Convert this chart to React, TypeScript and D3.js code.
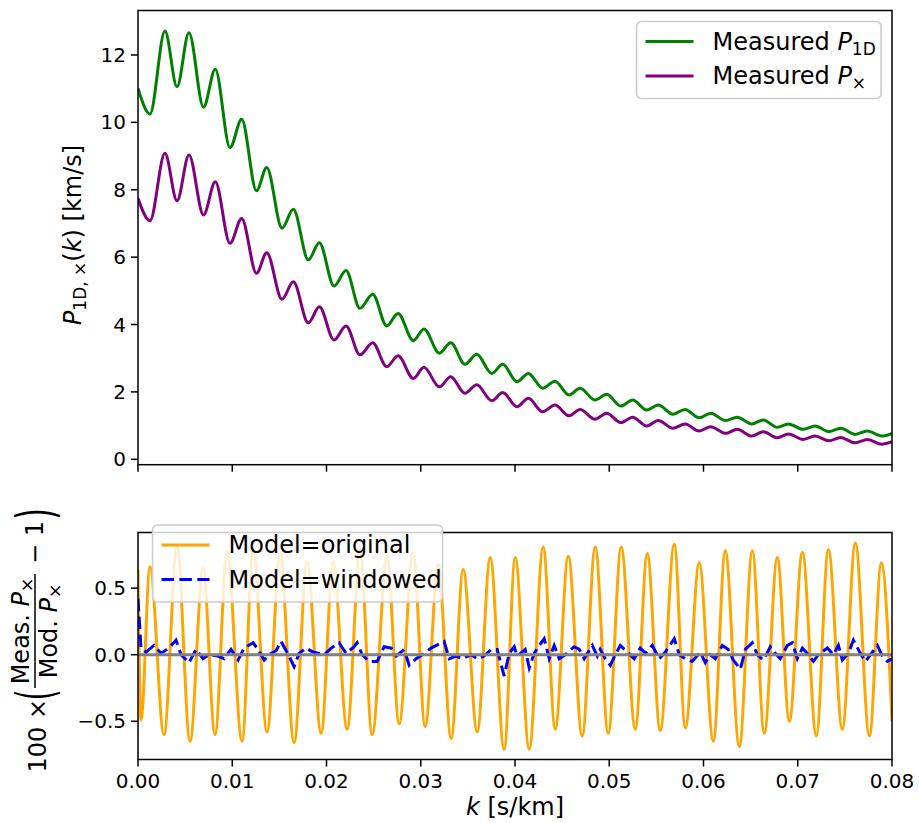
import React from 'react'
import * as d3 from 'd3'

// measured spectra, read at the extrema of the wiggles (k in s/km)
const kMeasured = [0, 0.00127, 0.00286, 0.00414, 0.00541, 0.00695, 0.0082, 0.00976, 0.011, 0.01257,
  0.01366, 0.01528, 0.01648, 0.01807, 0.01924, 0.0208, 0.02207, 0.02355, 0.0249, 0.02639,
  0.02759, 0.02921, 0.03034, 0.03197, 0.03318, 0.03469, 0.03594, 0.03753, 0.0387, 0.04021,
  0.04141, 0.04294, 0.04424, 0.04573, 0.0469, 0.04849, 0.04973, 0.05122, 0.05249, 0.05398,
  0.0552, 0.05676, 0.05804, 0.05955, 0.06077, 0.06233, 0.06358, 0.06511, 0.06634, 0.06783,
  0.069, 0.07059, 0.07183, 0.07331, 0.07456, 0.07607, 0.0774, 0.07891, 0.08]
const p1dMeasured = [11.01, 10.25, 12.71, 11.06, 12.66, 10.45, 11.58, 9.25, 10.09, 7.97,
  8.66, 6.86, 7.42, 5.92, 6.43, 5.14, 5.6, 4.48, 4.9, 3.96,
  4.33, 3.52, 3.87, 3.15, 3.46, 2.82, 3.12, 2.55, 2.82, 2.3,
  2.55, 2.11, 2.32, 1.91, 2.11, 1.76, 1.93, 1.58, 1.76, 1.46,
  1.61, 1.34, 1.48, 1.23, 1.37, 1.15, 1.25, 1.05, 1.17, 0.95,
  1.05, 0.89, 0.99, 0.82, 0.92, 0.74, 0.84, 0.69, 0.77]
const pxMeasured = [7.75, 7.08, 9.08, 7.67, 9.03, 7.25, 8.24, 6.41, 7.15, 5.52,
  6.13, 4.75, 5.27, 4.05, 4.53, 3.54, 3.96, 3.1, 3.46, 2.75,
  3.07, 2.4, 2.73, 2.15, 2.45, 1.96, 2.21, 1.74, 1.98, 1.56,
  1.81, 1.41, 1.61, 1.29, 1.48, 1.19, 1.37, 1.09, 1.25, 0.99,
  1.15, 0.92, 1.05, 0.84, 0.97, 0.77, 0.89, 0.69, 0.82, 0.64,
  0.75, 0.59, 0.69, 0.55, 0.65, 0.49, 0.59, 0.45, 0.52]

// residuals, model = original (extrema)
const kOriginal = [0, 0.00032, 0.00127, 0.00276, 0.00414, 0.00552, 0.0069, 0.00817, 0.00945, 0.01104,
  0.01221, 0.01369, 0.01507, 0.01656, 0.01794, 0.01943, 0.0207, 0.02219, 0.02357, 0.02484,
  0.02643, 0.02771, 0.02919, 0.03047, 0.03185, 0.03323, 0.0345, 0.03599, 0.03737, 0.03885,
  0.04002, 0.04151, 0.04299, 0.04427, 0.04565, 0.04713, 0.04851, 0.04989, 0.05127, 0.05276,
  0.05403, 0.05541, 0.0569, 0.05807, 0.05955, 0.06104, 0.06231, 0.0638, 0.06518, 0.06645,
  0.06783, 0.06911, 0.07049, 0.07197, 0.07325, 0.07473, 0.07611, 0.0776, 0.07887, 0.08]
const residOriginal = [0.64, -0.49, 0.66, -0.6, 0.82, -0.65, 0.65, -0.6, 0.77, -0.65,
  0.79, -0.58, 0.76, -0.66, 0.7, -0.59, 0.7, -0.56, 0.79, -0.6,
  0.74, -0.52, 0.77, -0.54, 0.68, -0.63, 0.64, -0.58, 0.73, -0.71,
  0.73, -0.71, 0.81, -0.56, 0.74, -0.61, 0.81, -0.59, 0.81, -0.56,
  0.76, -0.57, 0.83, -0.55, 0.69, -0.65, 0.78, -0.69, 0.78, -0.59,
  0.73, -0.5, 0.77, -0.61, 0.79, -0.56, 0.84, -0.61, 0.69, -0.5]

// residuals, model = windowed
const kWindowed = [0, 0.00032, 0.00085, 0.0017, 0.00244, 0.00329, 0.00403, 0.00457, 0.00541, 0.00616,
  0.0069, 0.00754, 0.00849, 0.00913, 0.00987, 0.01062, 0.01125, 0.01221, 0.01274, 0.01338,
  0.01391, 0.01465, 0.01518, 0.01603, 0.01656, 0.01709, 0.01783, 0.01858, 0.01975, 0.02049,
  0.02134, 0.02208, 0.02293, 0.02325, 0.02378, 0.02452, 0.02537, 0.02612, 0.02686, 0.02739,
  0.02824, 0.02877, 0.02951, 0.03036, 0.0311, 0.03195, 0.03248, 0.03302, 0.03376, 0.0344,
  0.03535, 0.03599, 0.03673, 0.03747, 0.03811, 0.03885, 0.03938, 0.03992, 0.04023, 0.04108,
  0.04151, 0.04204, 0.04257, 0.0431, 0.04363, 0.04416, 0.04469, 0.04533, 0.04628, 0.04682,
  0.04735, 0.0482, 0.04873, 0.04904, 0.04958, 0.05011, 0.05064, 0.05117, 0.05191, 0.05265,
  0.05329, 0.05382, 0.05456, 0.05531, 0.05595, 0.0569, 0.05743, 0.05807, 0.05881, 0.05966,
  0.06019, 0.06072, 0.06125, 0.062, 0.06263, 0.06316, 0.06391, 0.06444, 0.06518, 0.06571,
  0.06635, 0.06709, 0.06762, 0.06815, 0.0689, 0.06943, 0.06996, 0.07049, 0.07102, 0.07166,
  0.07219, 0.07314, 0.07378, 0.07431, 0.07473, 0.07537, 0.0759, 0.07665, 0.07718, 0.07792,
  0.07845, 0.07898, 0.07951, 0.08]
const residWindowed = [0.42, 0.05, 0.02, 0.07, 0.01, 0.05, 0.11, 0.0, -0.06, 0.04,
  -0.03, 0.0, -0.01, -0.03, 0.04, -0.04, 0.05, 0.09, 0.04, -0.04,
  0.0, 0.03, 0.1, -0.01, -0.09, 0.01, 0.05, 0.02, 0.0, 0.05,
  0.09, 0.01, 0.06, 0.09, 0.0, -0.05, -0.05, 0.06, 0.05, -0.01,
  0.04, -0.08, -0.03, 0.01, 0.05, 0.08, 0.1, -0.03, -0.01, -0.03,
  0.0, -0.03, -0.01, 0.04, 0.04, -0.16, 0.01, 0.06, -0.01, 0.04,
  -0.1, 0.01, 0.07, 0.12, -0.03, 0.07, -0.03, 0.0, 0.06, 0.04,
  -0.03, 0.07, -0.01, 0.04, -0.03, -0.08, 0.0, 0.07, 0.02, -0.03,
  0.05, 0.01, 0.07, -0.03, 0.02, 0.12, 0.0, -0.03, -0.05, 0.02,
  -0.06, 0.0, -0.03, 0.07, 0.04, -0.04, -0.11, 0.04, 0.09, 0.0,
  -0.04, 0.06, 0.01, -0.03, 0.07, 0.09, -0.03, 0.05, 0.01, -0.05,
  0.0, 0.05, 0.0, 0.07, -0.04, 0.01, 0.11, 0.01, -0.05, 0.02,
  0.07, -0.01, -0.05, -0.03]

const kTicks = [0, 0.01, 0.02, 0.03, 0.04, 0.05, 0.06, 0.07, 0.08]
const kTickLabels = ['0.00', '0.01', '0.02', '0.03', '0.04', '0.05', '0.06', '0.07', '0.08']
const powerTicks = [0, 2, 4, 6, 8, 10, 12]
const residTicks = [-0.5, 0, 0.5]
const residTickLabels = ['\u22120.5', '0.0', '0.5']

const FONT = 'DejaVu Sans'
const W = 919
const H = 823

const left = 138
const right = 892
const top1 = 10.5
const bot1 = 464.7
const top2 = 532.5
const bot2 = 759.5

function zip(ks: number[], vs: number[]) {
  const n = Math.min(ks.length, vs.length)
  return d3.range(n).map(i => ({ k: ks[i], v: vs[i] }))
}

function Frame(props: { x0: number, x1: number, y0: number, y1: number }) {
  const { x0, x1, y0, y1 } = props
  return <rect x={x0} y={y0} width={x1 - x0} height={y1 - y0} fill="none" stroke="#000" strokeWidth={1.5} />
}

function XTicks(props: { xScale: any, y: number, labels: boolean }) {
  const { xScale, y, labels } = props
  return <g>
    {kTicks.map((t, i) => (
      <g key={i}>
        <line x1={xScale(t)} x2={xScale(t)} y1={y} y2={y + 7} stroke="#000" strokeWidth={1.5} />
        {labels && <text x={xScale(t)} y={y + 28} textAnchor="middle" fontSize={20} fontFamily={FONT}>{kTickLabels[i]}</text>}
      </g>
    ))}
  </g>
}

function YTicks(props: { yScale: any, ticks: number[], labels: string[] }) {
  const { yScale, ticks, labels } = props
  return <g>
    {ticks.map((t, i) => (
      <g key={i}>
        <line x1={left - 7} x2={left} y1={yScale(t)} y2={yScale(t)} stroke="#000" strokeWidth={1.5} />
        <text x={left - 12} y={yScale(t) + 7} textAnchor="end" fontSize={20} fontFamily={FONT}>{labels[i]}</text>
      </g>
    ))}
  </g>
}

function Legend(props: { x: number, y: number, w: number, entries: { label: React.ReactNode, color: string, dash?: string }[] }) {
  const { x, y, w, entries } = props
  const rowH = 34.5
  const h = entries.length * rowH + 8
  return <g>
    <rect x={x} y={y} width={w} height={h} rx={5} fill="#fff" fillOpacity={0.8} stroke="#cccccc" strokeWidth={1.5} />
    {entries.map((e, i) => {
      const cy = y + 20 + i * rowH
      return <g key={i}>
        <line x1={x + 9} x2={x + 57} y1={cy} y2={cy} stroke={e.color} strokeWidth={3} strokeDasharray={e.dash} />
        <text x={x + 76} y={cy + 8} fontSize={24} fontFamily={FONT}>{e.label}</text>
      </g>
    })}
  </g>
}

export default function App() {
  const xScale = d3.scaleLinear().domain([0, 0.08]).range([left, right])
  const yTop = d3.scaleLinear().domain([-0.16, 13.32]).range([bot1, top1])
  const yBot = d3.scaleLinear().domain([-0.787, 0.918]).range([bot2, top2])

  const smoothTop = d3.line<{ k: number, v: number }>()
    .x(d => xScale(d.k)).y(d => yTop(d.v)).curve(d3.curveMonotoneX)
  const smoothBot = d3.line<{ k: number, v: number }>()
    .x(d => xScale(d.k)).y(d => yBot(d.v)).curve(d3.curveMonotoneX)
  const rawBot = d3.line<{ k: number, v: number }>()
    .x(d => xScale(d.k)).y(d => yBot(d.v))

  const p1dPath = smoothTop(zip(kMeasured, p1dMeasured)) || ''
  const pxPath = smoothTop(zip(kMeasured, pxMeasured)) || ''
  const origPath = smoothBot(zip(kOriginal, residOriginal)) || ''
  const windPath = rawBot(zip(kWindowed, residWindowed)) || ''

  const it = { fontStyle: 'italic' as const }

  return (
    <svg width={W} height={H} style={{ position: 'absolute', left: 0, top: 0, background: '#fff' }}>
      <defs>
        <clipPath id="clipTop"><rect x={left} y={top1} width={right - left} height={bot1 - top1} /></clipPath>
        <clipPath id="clipBot"><rect x={left} y={top2} width={right - left} height={bot2 - top2} /></clipPath>
      </defs>

      {/* top panel */}
      <g clipPath="url(#clipTop)">
        <path d={p1dPath} fill="none" stroke="green" strokeWidth={3} />
        <path d={pxPath} fill="none" stroke="purple" strokeWidth={3} />
      </g>
      <Frame x0={left} x1={right} y0={top1} y1={bot1} />
      <XTicks xScale={xScale} y={bot1} labels={false} />
      <YTicks yScale={yTop} ticks={powerTicks} labels={powerTicks.map(String)} />
      <text transform="translate(81,235) rotate(-90)" textAnchor="middle" fontSize={24} fontFamily={FONT}>
        <tspan style={it}>P</tspan><tspan fontSize={17} dy={5}>1D, ×</tspan><tspan dy={-5}>(</tspan><tspan style={it}>k</tspan>) [km/s]
      </text>
      <Legend x={636.5} y={21.5} w={244.5} entries={[
        { label: <>Measured <tspan style={it}>P</tspan><tspan fontSize={17} dy={5}>1D</tspan></>, color: 'green' },
        { label: <>Measured <tspan style={it}>P</tspan><tspan fontSize={17} dy={5}>×</tspan></>, color: 'purple' },
      ]} />

      {/* bottom panel */}
      <g clipPath="url(#clipBot)">
        <path d={origPath} fill="none" stroke="orange" strokeWidth={3} />
        <path d={windPath} fill="none" stroke="blue" strokeWidth={3} strokeDasharray="12.5 5.4" />
        <line x1={left} x2={right} y1={yBot(0)} y2={yBot(0)} stroke="gray" strokeWidth={3} />
      </g>
      <Frame x0={left} x1={right} y0={top2} y1={bot2} />
      <XTicks xScale={xScale} y={bot2} labels={true} />
      <YTicks yScale={yBot} ticks={residTicks} labels={residTickLabels} />
      <text x={(left + right) / 2} y={815} textAnchor="middle" fontSize={24} fontFamily={FONT}>
        <tspan style={it}>k</tspan> [s/km]
      </text>
      <g transform="translate(0,640) rotate(-90)" fontFamily={FONT} fontSize={24}>
        <text x={-59} y={46} textAnchor="end">100 ×</text>
        <text transform="translate(-55,53) scale(0.55,1)" fontSize={52} textAnchor="middle">(</text>
        <text x={9} y={29} textAnchor="middle">Meas. <tspan style={it}>P</tspan><tspan fontSize={17} dy={4}>×</tspan></text>
        <line x1={-48} x2={66} y1={35} y2={35} stroke="#000" strokeWidth={1.5} />
        <text x={9} y={57} textAnchor="middle">Mod. <tspan style={it}>P</tspan><tspan fontSize={17} dy={4}>×</tspan></text>
        <text x={76} y={43}>− 1</text>
        <text transform="translate(126,53) scale(0.55,1)" fontSize={52} textAnchor="middle">)</text>
      </g>
      <Legend x={152.5} y={525} w={290} entries={[
        { label: 'Model=original', color: 'orange' },
        { label: 'Model=windowed', color: 'blue', dash: '12.5 5.4' },
      ]} />
    </svg>
  )
}
